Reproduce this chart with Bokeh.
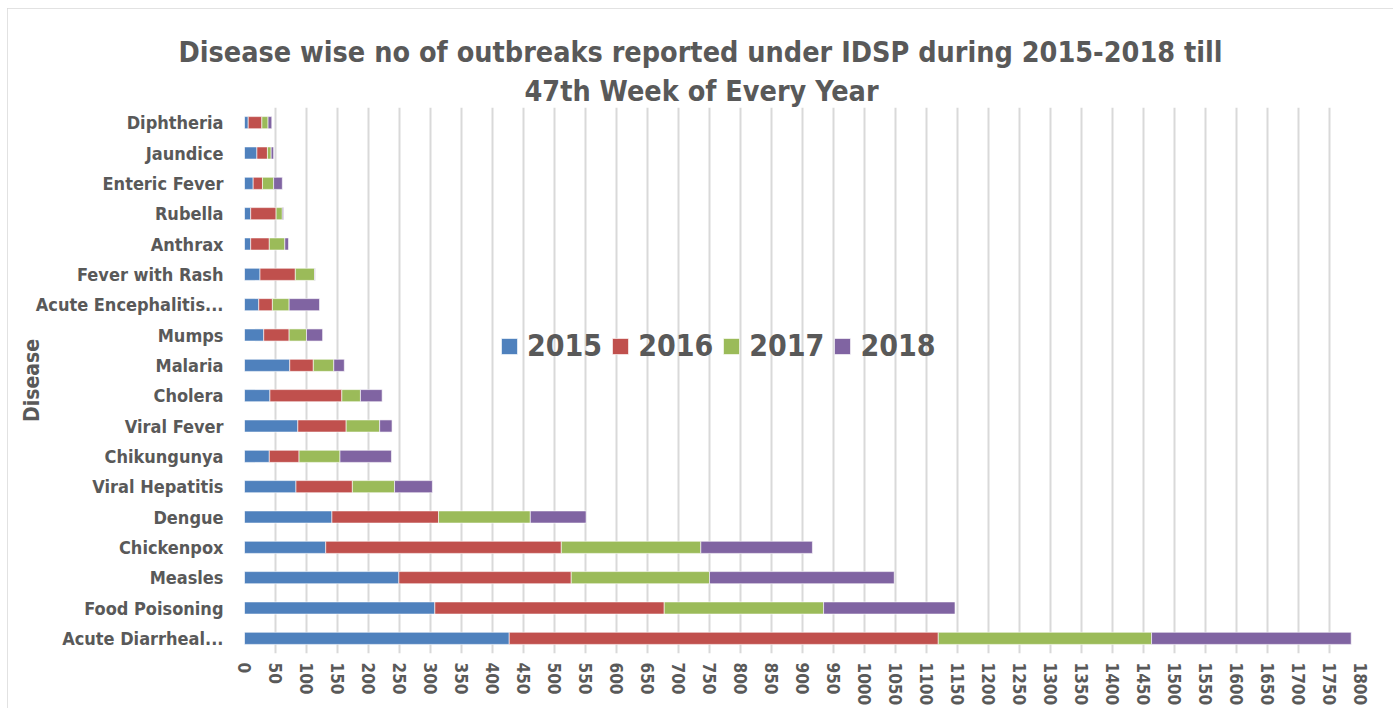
from bokeh.plotting import figure
from bokeh.models import FactorRange, Range1d, SingleIntervalTicker, Title, Legend, LegendItem
from bokeh.embed import file_html
from bokeh.resources import INLINE

diseases = ["Acute Diarrheal...", "Food Poisoning", "Measles", "Chickenpox", "Dengue",
            "Viral Hepatitis", "Chikungunya", "Viral Fever", "Cholera", "Malaria", "Mumps",
            "Acute Encephalitis...", "Fever with Rash", "Anthrax", "Rubella", "Enteric Fever",
            "Jaundice", "Diphtheria"]
y2015 = [427, 307, 249, 131, 141, 83, 40, 86, 41, 73, 31, 23, 25, 10, 10, 14, 20, 6]
y2016 = [692, 370, 278, 380, 172, 91, 48, 78, 116, 38, 41, 22, 57, 30, 41, 15, 17, 22]
y2017 = [344, 257, 223, 225, 148, 68, 66, 54, 30, 33, 28, 27, 31, 25, 10, 18, 6, 10]
y2018 = [322, 212, 298, 180, 90, 61, 83, 20, 35, 17, 26, 49, 1, 6, 2, 14, 4, 6]
years = ["2015", "2016", "2017", "2018"]
colors = ["#4F81BD", "#C0504D", "#9BBB59", "#8064A2"]

FONT = "'DejaVu Sans Condensed', sans-serif"
TXT = "#595959"

data = dict(disease=diseases, y2015=y2015, y2016=y2016, y2017=y2017, y2018=y2018)

p = figure(width=1386, height=700, output_backend="svg", toolbar_location=None,
           y_range=FactorRange(factors=diseases, range_padding=0),
           x_range=Range1d(0, 1800),
           min_border_left=237, min_border_right=33, min_border_top=99, min_border_bottom=55,
           styles={"margin-left": "7px", "margin-top": "8px",
                   "outline": "2px solid #D9D9D9", "outline-offset": "-2px"})

renderers = p.hbar_stack(["y2015", "y2016", "y2017", "y2018"], y="disease", height=0.4,
                         color=colors, line_color="white", line_width=0.6, source=data)

p.add_layout(Title(text="47th Week of Every Year", align="left", offset=280,
                   text_font=FONT, text_font_size="28.5px", text_font_style="bold",
                   text_color=TXT, standoff=0), "above")
p.add_layout(Title(text="Disease wise no of outbreaks reported under IDSP during 2015-2018 till",
                   align="left", offset=-66, text_font=FONT, text_font_size="28.5px",
                   text_font_style="bold", text_color=TXT, standoff=8), "above")

legend = Legend(items=[LegendItem(label=yr, renderers=[r]) for yr, r in zip(years, renderers)],
                orientation="horizontal", location=(255, 290),
                label_text_font=FONT, label_text_font_size="30px", label_text_font_style="bold",
                label_text_color=TXT, glyph_width=20, glyph_height=20, label_standoff=8,
                spacing=8, padding=0, border_line_color=None, background_fill_alpha=0)
p.add_layout(legend, "center")

p.xaxis.ticker = SingleIntervalTicker(interval=50)
p.xaxis.major_label_orientation = "vertical"
p.xaxis.major_label_text_font = FONT
p.xaxis.major_label_text_font_size = "17px"
p.xaxis.major_label_text_font_style = "bold"
p.xaxis.major_label_text_color = TXT
p.xaxis.major_label_standoff = 5
p.xaxis.major_tick_out = 0
p.xaxis.major_tick_in = 0
p.xaxis.axis_line_color = None
p.xaxis.major_tick_line_color = None
p.xaxis.minor_tick_line_color = None

p.yaxis.axis_label = "Disease"
p.yaxis.axis_label_text_font = FONT
p.yaxis.axis_label_text_font_size = "21px"
p.yaxis.axis_label_text_font_style = "bold"
p.yaxis.axis_label_text_color = TXT
p.yaxis.axis_label_standoff = -11
p.yaxis.major_label_text_font = FONT
p.yaxis.major_label_text_font_size = "18px"
p.yaxis.major_label_text_font_style = "bold"
p.yaxis.major_label_text_color = TXT
p.yaxis.major_label_standoff = 21
p.yaxis.major_tick_out = 0
p.yaxis.major_tick_in = 0
p.yaxis.axis_line_color = None
p.yaxis.major_tick_line_color = None
p.yaxis.minor_tick_line_color = None

p.xgrid.grid_line_color = "#D9D9D9"
p.xgrid.grid_line_width = 2
p.ygrid.grid_line_color = None
p.outline_line_color = None

open("out.html", "w").write(file_html(p, INLINE))
